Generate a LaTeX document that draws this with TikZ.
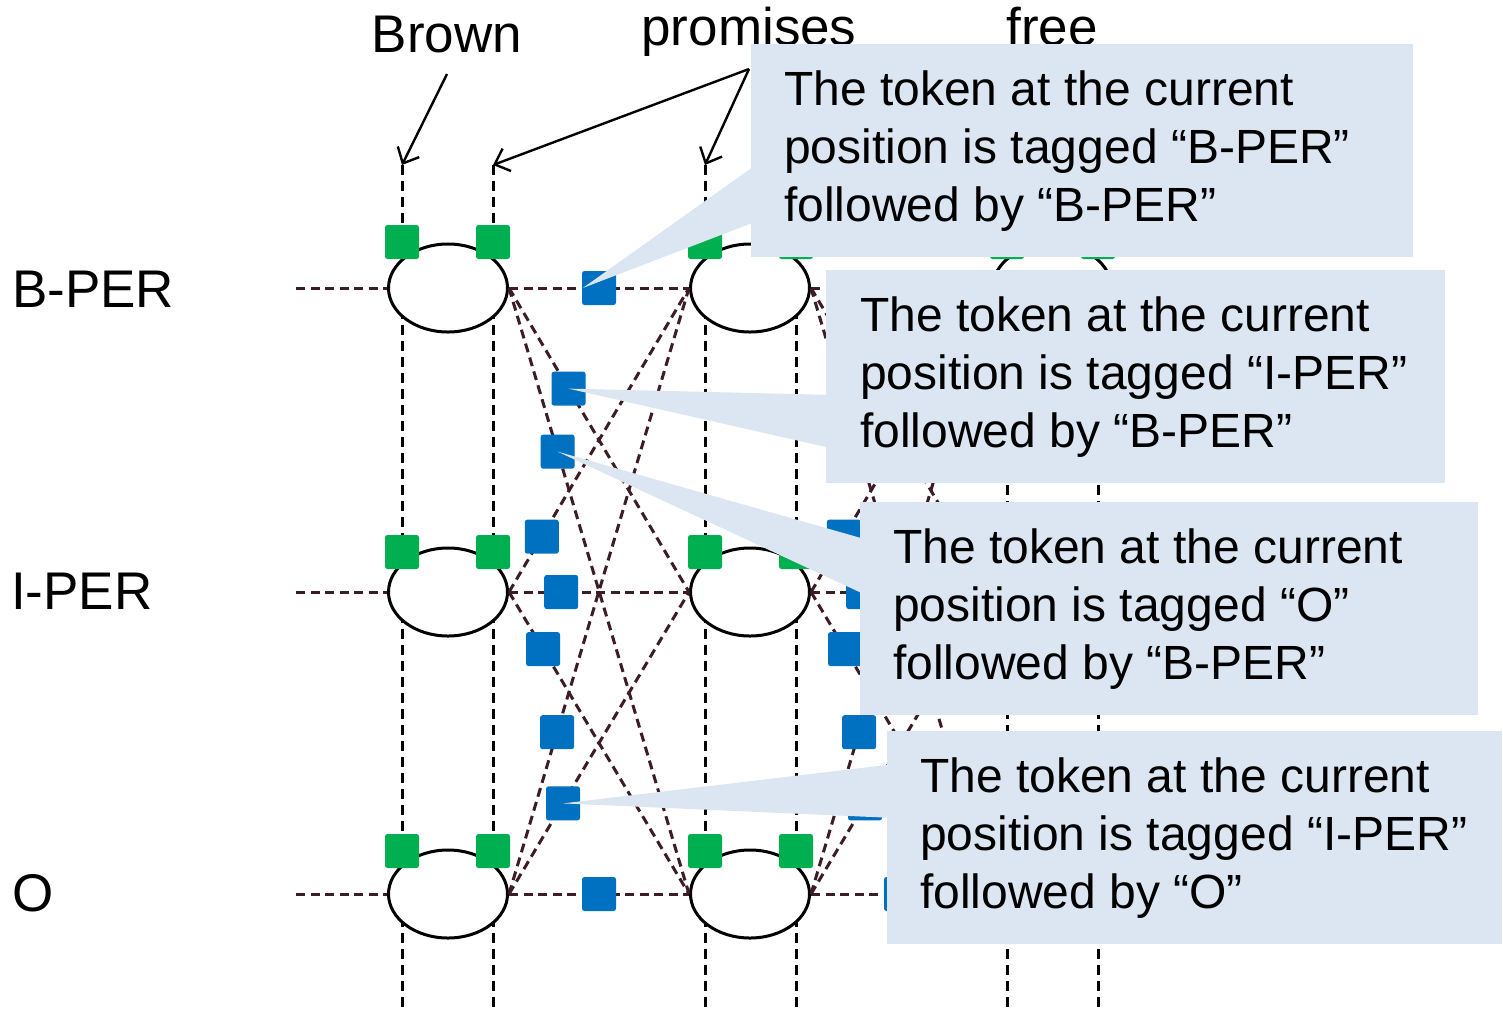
\documentclass[tikz,border=0pt]{standalone}
\usepackage{fontspec}
\setmainfont{Liberation Sans}
\usetikzlibrary{arrows.meta,shapes.geometric}
\definecolor{calloutbg}{HTML}{DCE6F2}
\definecolor{greensq}{HTML}{00B050}
\definecolor{bluesq}{HTML}{0070C0}
\definecolor{transcol}{RGB}{60,28,40}
\pgfdeclarelayer{bg}
\pgfdeclarelayer{fg}
\pgfsetlayers{bg,main,fg}
\begin{document}
\begin{tikzpicture}[x=1pt,y=-1pt,
  greenbox/.style={fill=greensq,minimum size=34pt,inner sep=0pt,rounded corners=2.5pt},
  bluebox/.style={fill=bluesq,minimum size=34pt,inner sep=0pt,rounded corners=2.5pt},
  tagellipse/.style={ellipse,draw=black,line width=3pt,fill=white,minimum width=119pt,minimum height=88pt,inner sep=0pt},
  colline/.style={draw=black,line width=3pt,dash pattern=on 10pt off 6pt},
  transline/.style={draw=transcol,line width=3pt,dash pattern=on 9pt off 5.5pt},
  headarrow/.style={draw=black,line width=2.4pt,-{Straight Barb[length=13pt,width=24pt]}},
  biglabel/.style={font=\fontsize{53}{63}\selectfont,inner sep=0pt},
  callout/.style={fill=calloutbg,inner sep=0pt,anchor=north west},
  callouttext/.style={font=\fontsize{48}{58}\selectfont,align=left,inner sep=0pt,anchor=west}
]
\begin{pgfonlayer}{bg}
\fill[white] (0,0) rectangle (1503,1013);
\end{pgfonlayer}
\useasboundingbox (0,0) rectangle (1503,1013);

% row labels and column headers
\node[biglabel,anchor=base west] (lB) at (12,307) {B-PER};
\node[biglabel,anchor=base west] (lI) at (11,609) {I-PER};
\node[biglabel,anchor=base west] (lO) at (12,911) {O};
\node[biglabel,anchor=base] (hBrown) at (447,52) {Brown};
\node[biglabel,anchor=base] (hProm) at (749,45) {promises};
\node[biglabel,anchor=base] (hFree) at (1052,45) {free};

% vertical dashed lines
\begin{pgfonlayer}{bg}
\foreach \n/\x in {1/402,2/493,3/705,4/796,5/1007,6/1098} {
  \coordinate (vt\n) at (\x,165);
  \coordinate (vb\n) at (\x,1013);
  \draw[colline] (vt\n) -- (vb\n);
}
\end{pgfonlayer}

% header arrows
\coordinate (aBrown) at (447,74);
\coordinate (aProm) at (749,69);
\draw[headarrow] (aBrown) -- (vt1);
\draw[headarrow] (aProm) -- (vt2);
\draw[headarrow] (aProm) -- (vt3);

% ellipses
\foreach \c/\x in {1/448,2/750,3/1052} {
  \foreach \r/\y in {B/288,I/592,O/894} {
    \node[tagellipse] (e\c\r) at (\x,\y) {};
  }
}

% row lines
\coordinate (sB) at (296,288);
\coordinate (sI) at (296,592);
\coordinate (sO) at (296,894);
\draw[transline] (sB) -- (e1B.west);
\draw[transline] (sI) -- (e1I.west);
\draw[transline] (sO) -- (e1O.west);

% transitions
\foreach \a/\b in {1/2,2/3} {
  \draw[transline] (e\a B.east) -- coordinate[pos=0.5] (p\a BB) (e\b B.west);
  \draw[transline] (e\a B.east) -- coordinate[pos=0.331] (p\a BI) (e\b I.west);
  \draw[transline] (e\a B.east) -- coordinate[pos=0.27] (p\a BO) (e\b O.west);
  \draw[transline] (e\a I.east) -- coordinate[pos=0.182] (p\a IB) (e\b B.west);
  \draw[transline] (e\a I.east) -- coordinate[pos=0.29] (p\a II) (e\b I.west);
  \draw[transline] (e\a I.east) -- coordinate[pos=0.189] (p\a IO) (e\b O.west);
  \draw[transline] (e\a O.east) -- coordinate[pos=0.267] (p\a OB) (e\b B.west);
  \draw[transline] (e\a O.east) -- coordinate[pos=0.30] (p\a OI) (e\b I.west);
  \draw[transline] (e\a O.east) -- coordinate[pos=0.5] (p\a OO) (e\b O.west);
}

% green squares
\foreach \n/\x in {1/402,2/493,3/705,4/796,5/1007,6/1098} {
  \foreach \r/\y in {B/242,I/552,O/851} {
    \node[greenbox] (g\n\r) at (\x,\y) {};
  }
}

% blue squares
\foreach \a in {1,2} {
  \foreach \k in {BB,BI,BO,IB,II,IO,OB,OI,OO} {
    \node[bluebox] (b\a\k) at (p\a\k) {};
  }
}

% callouts
\begin{pgfonlayer}{fg}
\node[callout,minimum width=662pt,minimum height=213pt] (c1) at (751,44) {};
\fill[calloutbg] ([shift={(1,0)}]b1BB.west) -- (760,162) -- (760,220) -- cycle;
\node[callouttext] (t1) at ([shift={(33,0)}]c1.west) {The token at the current\\position is tagged “B-PER”\\followed by “B-PER”};

\node[callout,minimum width=619pt,minimum height=213pt] (c2) at (826,270) {};
\fill[calloutbg] (b1BI.center) -- (835,395) -- (835,449) -- cycle;
\node[callouttext] (t2) at ([shift={(34,0)}]c2.west) {The token at the current\\position is tagged “I-PER”\\followed by “B-PER”};

\node[callout,minimum width=618pt,minimum height=213pt] (c3) at (860,502) {};
\fill[calloutbg] (b1BO.center) -- (868,540) -- (868,596) -- cycle;
\node[callouttext] (t3) at ([shift={(33,0)}]c3.west) {The token at the current\\position is tagged “O”\\followed by “B-PER”};

\node[callout,minimum width=615pt,minimum height=213pt] (c4) at (887,731) {};
\fill[calloutbg] (b1OI.center) -- (895,764) -- (895,818) -- cycle;
\node[callouttext] (t4) at ([shift={(33,0)}]c4.west) {The token at the current\\position is tagged “I-PER”\\followed by “O”};
\end{pgfonlayer}
\end{tikzpicture}
\end{document}
